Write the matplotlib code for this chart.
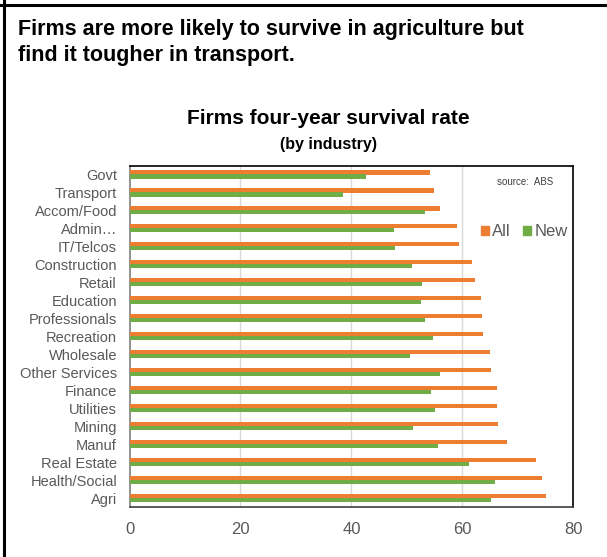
import numpy as np
import matplotlib
matplotlib.use("Agg")
import matplotlib.pyplot as plt
from matplotlib.patches import Patch
from matplotlib.lines import Line2D

# ─── 数据 ────────────────────────────────────────────────────────────────────
industries = [
    "Govt", "Transport", "Accom/Food", "Admin\u2026", "IT/Telcos",
    "Construction", "Retail", "Education", "Professionals", "Recreation",
    "Wholesale", "Other Services", "Finance", "Utilities", "Mining",
    "Manuf", "Real Estate", "Health/Social", "Agri",
]
all_rate = [54.1, 54.9, 56.0, 59.1, 59.4, 61.7, 62.2, 63.4, 63.6, 63.8,
            65.0, 65.2, 66.2, 66.2, 66.4, 68.1, 73.3, 74.4, 75.1]
new_rate = [42.6, 38.4, 53.2, 47.6, 47.8, 50.9, 52.8, 52.5, 53.2, 54.7,
            50.6, 56.0, 54.4, 55.1, 51.1, 55.6, 61.2, 65.9, 65.2]
x_ticks = [0, 20, 40, 60, 80]

ORANGE = "#ED7D31"
GREEN = "#70AD47"
GREY_TXT = "#595959"

plt.rcParams["font.family"] = ["Liberation Sans", "DejaVu Sans"]

W, H = 607, 557
fig = plt.figure(figsize=(W / 100, H / 100), dpi=100)

# 外框（上、左）
fig.add_artist(Line2D([0, 1], [1 - 4.5 / H] * 2, color="black", lw=2.2,
                      transform=fig.transFigure))
fig.add_artist(Line2D([4 / W] * 2, [0, 1], color="black", lw=2.2,
                      transform=fig.transFigure))

# 标题文字
fig.text(18 / W, 1 - 30 / H, "Firms are more likely to survive in agriculture but",
         ha="left", va="center", fontsize=15.5, fontweight="bold")
fig.text(18 / W, 1 - 56 / H, "find it tougher in transport.",
         ha="left", va="center", fontsize=15.5, fontweight="bold")
fig.text(328 / W, 1 - 119 / H, "Firms four-year survival rate",
         ha="center", va="center", fontsize=15, fontweight="bold")
fig.text(329 / W, 1 - 144 / H, "(by industry)",
         ha="center", va="center", fontsize=11.5, fontweight="bold")

# ─── 图表 ────────────────────────────────────────────────────────────────────
ax = fig.add_axes([129.5 / W, 1 - 507 / H, (573.3 - 129.5) / W, (507 - 165.5) / H])

n = len(industries)
y = np.arange(n)[::-1]
h = 0.23
ax.barh(y + 0.11, all_rate, height=h, color=ORANGE, label="All", zorder=3)
ax.barh(y - 0.11, new_rate, height=h, color=GREEN, label="New", zorder=3)

ax.set_xlim(0, 80)
ax.set_ylim(-0.5, n - 0.5)
ax.set_xticks(x_ticks)
ax.set_xticklabels([str(t) for t in x_ticks], fontsize=12, color=GREY_TXT)
ax.set_yticks(y)
ax.set_yticklabels(industries, fontsize=10.5, color=GREY_TXT)
ax.tick_params(axis="both", length=0)
ax.tick_params(axis="x", pad=11)
ax.tick_params(axis="y", pad=9)

for gx in [20, 40, 60]:
    ax.axvline(gx, color="#D9D9D9", lw=1, zorder=1)

ax.spines["top"].set_color("black")
ax.spines["right"].set_color("black")
ax.spines["bottom"].set_color("#404040")
ax.spines["left"].set_color("#808080")
for s in ax.spines.values():
    s.set_linewidth(1.2)

fig.text(525 / W, 1 - 182 / H, "source:  ABS", ha="center", va="center",
         fontsize=7, color="#404040")

handles = [Patch(color=ORANGE, label="All"), Patch(color=GREEN, label="New")]
leg = fig.legend(handles=handles, loc="center", ncol=2, frameon=False,
                 bbox_to_anchor=(524 / W, 1 - 232 / H),
                 handlelength=0.5, handleheight=0.5, handletextpad=0.2,
                 columnspacing=0.7, prop={"size": 12})
for t in leg.get_texts():
    t.set_color(GREY_TXT)

fig.savefig("out.png", dpi=100)
